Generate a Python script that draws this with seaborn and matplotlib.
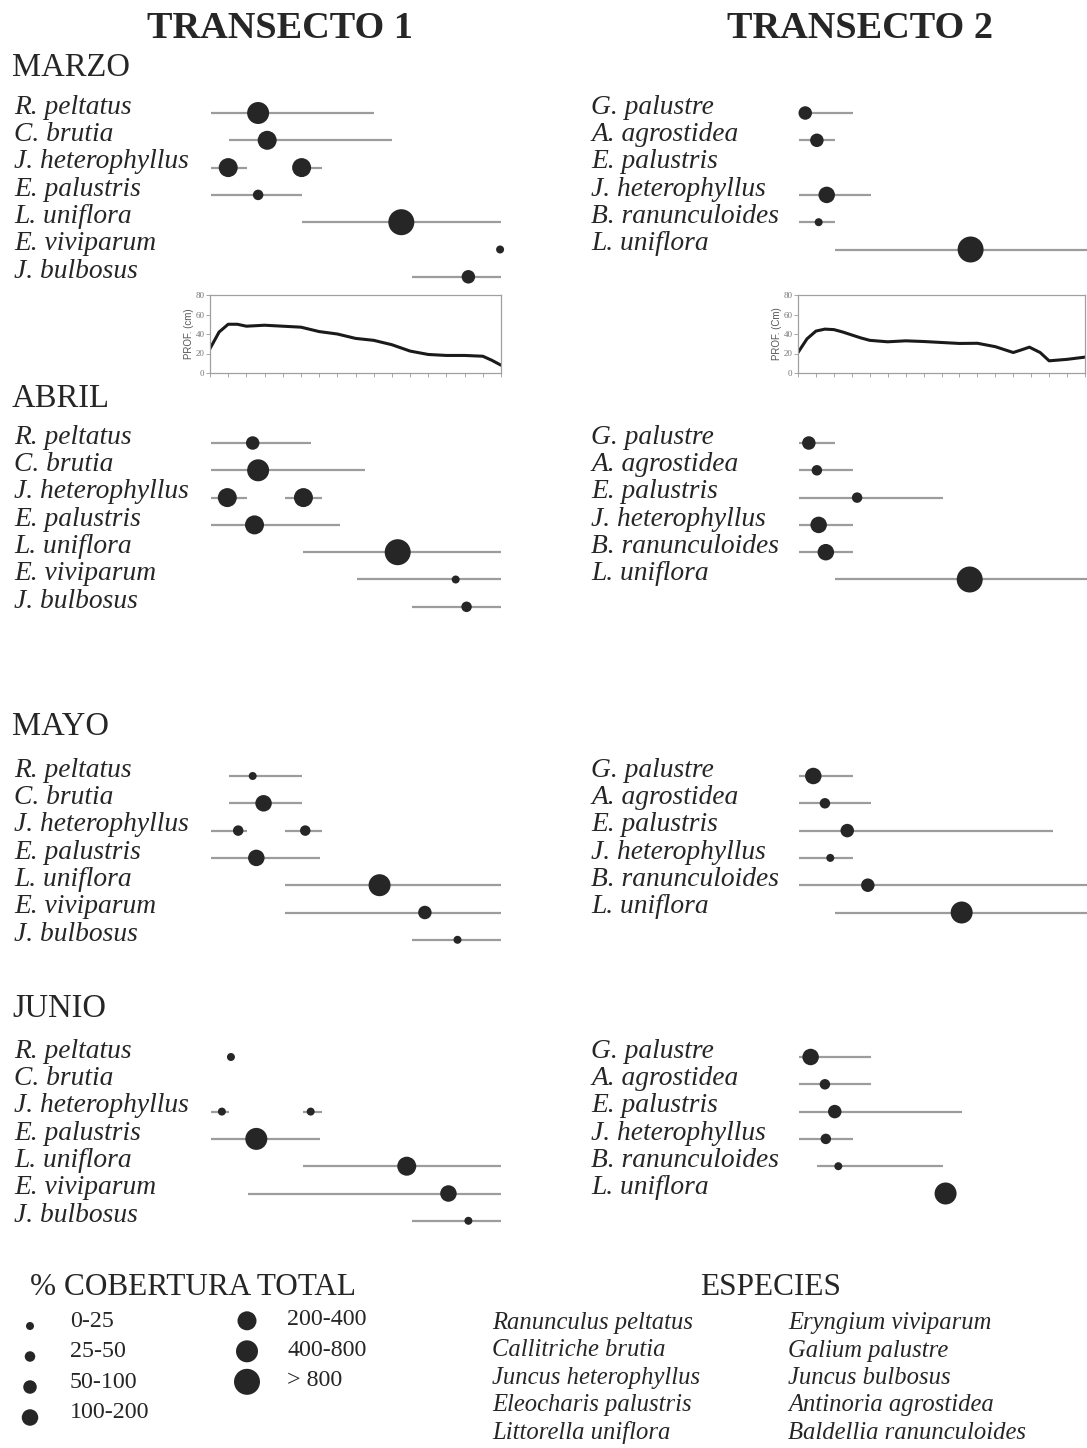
import numpy as np
import pandas as pd
import matplotlib.pyplot as plt
import matplotlib.transforms as mtransforms
import seaborn as sns

W, H = 1087, 1448

months = ["MARZO", "ABRIL", "MAYO", "JUNIO"]

# species rows of each transect (top to bottom)
species_t1 = ["R. peltatus", "C. brutia", "J. heterophyllus", "E. palustris",
              "L. uniflora", "E. viviparum", "J. bulbosus"]
species_t2 = ["G. palustre", "A. agrostidea", "E. palustris", "J. heterophyllus",
              "B. ranunculoides", "L. uniflora"]

# coverage classes 1..7
cover_labels = ["0-25", "25-50", "50-100", "100-200", "200-400", "400-800", "> 800"]

# observations: (row, position along transect, cover class, range start, range end)
t1_marzo = [
    (0, 2.6, 6, 0.0, 9.0),
    (1, 3.1, 5, 1.0, 10.0),
    (2, 0.95, 5, 0.0, 2.0),
    (2, 5.0, 5, 4.5, 6.1),
    (3, 2.6, 2, 0.0, 5.0),
    (4, 10.5, 7, 5.0, 16.0),
    (5, 15.95, 1, 15.95, 15.95),
    (6, 14.2, 3, 11.1, 16.0),
]
t1_abril = [
    (0, 2.3, 3, 0.0, 5.5),
    (1, 2.6, 6, 0.0, 8.5),
    (2, 0.9, 5, 0.0, 2.0),
    (2, 5.1, 5, 4.1, 6.1),
    (3, 2.4, 5, 0.0, 7.1),
    (4, 10.3, 7, 5.1, 16.0),
    (5, 13.5, 1, 8.05, 16.0),
    (6, 14.1, 2, 11.1, 16.0),
]
t1_mayo = [
    (0, 2.3, 1, 1.0, 5.0),
    (1, 2.9, 4, 1.0, 5.0),
    (2, 1.5, 2, 0.0, 2.0),
    (2, 5.2, 2, 4.1, 6.1),
    (3, 2.5, 4, 0.0, 6.0),
    (4, 9.3, 6, 4.1, 16.0),
    (5, 11.8, 3, 4.1, 16.0),
    (6, 13.6, 1, 11.1, 16.0),
]
t1_junio = [
    (0, 1.1, 1, 1.1, 1.1),
    (2, 0.6, 1, 0.0, 1.0),
    (2, 5.5, 1, 5.1, 6.1),
    (3, 2.5, 6, 0.0, 6.0),
    (4, 10.8, 5, 5.1, 16.0),
    (5, 13.1, 4, 2.05, 16.0),
    (6, 14.2, 1, 11.1, 16.0),
]
t2_marzo = [
    (0, 0.35, 3, 0.35, 3.0),
    (1, 1.0, 3, 0.0, 2.0),
    (3, 1.55, 4, 0.0, 4.0),
    (4, 1.1, 1, 0.0, 2.0),
    (5, 9.6, 7, 2.0, 16.1),
]
t2_abril = [
    (0, 0.55, 3, 0.0, 2.0),
    (1, 1.0, 2, 0.0, 3.0),
    (2, 3.25, 2, 0.0, 8.05),
    (3, 1.1, 4, 0.0, 3.0),
    (4, 1.5, 4, 0.0, 3.0),
    (5, 9.55, 7, 2.0, 16.1),
]
t2_mayo = [
    (0, 0.8, 4, 0.0, 3.0),
    (1, 1.45, 2, 0.0, 4.0),
    (2, 2.7, 3, 0.0, 14.2),
    (3, 1.75, 1, 0.0, 3.0),
    (4, 3.85, 3, 0.0, 16.1),
    (5, 9.1, 6, 2.0, 16.1),
]
t2_junio = [
    (0, 0.65, 4, 0.0, 4.0),
    (1, 1.45, 2, 0.0, 4.0),
    (2, 2.0, 3, 0.0, 9.1),
    (3, 1.5, 2, 0.0, 3.0),
    (4, 2.2, 1, 1.0, 8.05),
    (5, 8.2, 6, 8.2, 8.2),
]

# depth profiles (cm) along each transect
prof_x_t1 = [0, 0.5, 1, 1.5, 2, 3, 4, 5, 6, 7, 8, 9, 10, 11, 12, 13, 14, 15, 15.5, 16]
prof_d_t1 = [25, 42, 50, 50, 48, 49, 48, 47, 42.5, 40, 35.5, 33.5, 29, 22.5, 19, 18, 18, 17.2, 13, 8]
prof_x_t2 = [0, 0.5, 1, 1.5, 2, 2.5, 3, 3.5, 4, 5, 6, 7, 8, 9, 10, 11, 12, 12.5, 12.9, 13.5, 14, 15, 16]
prof_d_t2 = [21, 35, 43, 45, 44.5, 42, 39, 36, 33.5, 32, 33, 32.3, 31.3, 30.3, 30.5, 27, 21, 24, 26.5, 21, 12.5, 14, 16.3]

species_full_1 = ["Ranunculus peltatus", "Callitriche brutia", "Juncus heterophyllus",
                  "Eleocharis palustris", "Littorella uniflora"]
species_full_2 = ["Eryngium viviparum", "Galium palustre", "Juncus bulbosus",
                  "Antinoria agrostidea", "Baldellia ranunculoides"]

# dot diameter in pixels per class -> marker area in pt^2
dot_px = {1: 8, 2: 10.5, 3: 13.5, 4: 16.5, 5: 19, 6: 22, 7: 26}
dot_sizes = {k: (v * 0.72) ** 2 for k, v in dot_px.items()}

ink = "#262626"
line_gray = "#9c9c9c"

sns.set_theme(style="white")
plt.rcParams["font.family"] = ["Liberation Serif", "DejaVu Serif"]
plt.rcParams["text.color"] = ink

fig = plt.figure(figsize=(W / 100, H / 100), dpi=100)


def px_axes(x0, y0, x1, y1):
    return fig.add_axes([x0 / W, 1 - y1 / H, (x1 - x0) / W, (y1 - y0) / H])


def px_text(x, y, s, **kw):
    fig.text(x / W, 1 - y / H, s, **kw)


# layout
block_y = [113, 443, 776, 1057]
month_y = [76, 407, 735, 1017]
row_step = 27.3
panel_x = {1: (211, 501), 2: (799, 1085)}
label_x = {1: 14, 2: 591}
cols = ["row", "pos", "cls", "start", "end"]

transects = [
    (1, species_t1, [t1_marzo, t1_abril, t1_mayo, t1_junio]),
    (2, species_t2, [t2_marzo, t2_abril, t2_mayo, t2_junio]),
]

for t, species, month_data in transects:
    x0, x1 = panel_x[t]
    for m, obs in enumerate(month_data):
        y0 = block_y[m]
        ax = px_axes(x0, y0 - row_step / 2, x1, y0 + 6.5 * row_step)
        df = pd.DataFrame(obs, columns=cols)
        rng = df[df["end"] > df["start"]]
        ax.hlines(rng["row"], rng["start"], rng["end"], color=line_gray,
                  lw=1.6, clip_on=False, zorder=1)
        sns.scatterplot(data=df, x="pos", y="row", size="cls", sizes=dot_sizes,
                        color=ink, linewidth=0, legend=False, ax=ax,
                        clip_on=False, zorder=3)
        ax.set_xlim(0, 16)
        ax.set_ylim(6.5, -0.5)
        ax.axis("off")
        trans = mtransforms.blended_transform_factory(fig.transFigure, ax.transData)
        for i, name in enumerate(species):
            ax.text(label_x[t] / W, i + 0.03, name, transform=trans,
                    style="italic", fontsize=19.8, va="baseline")
        if t == 1:
            px_text(12, month_y[m], months[m], fontsize=23.5, va="baseline")

px_text(280, 38, "TRANSECTO 1", fontsize=27.5, weight="bold", ha="center", va="baseline")
px_text(860, 38, "TRANSECTO 2", fontsize=27.5, weight="bold", ha="center", va="baseline")

# depth profile insets
profiles = [
    (panel_x[1], prof_x_t1, prof_d_t1, "PROF. (cm)"),
    ((799, 1085), prof_x_t2, prof_d_t2, "PROF. (Cm)"),
]
for (x0, x1), px_, pd_, lab in profiles:
    ins = px_axes(x0 - 1, 295, x1, 373)
    sns.lineplot(x=px_, y=pd_, ax=ins, color="#1a1a1a", lw=2.2)
    ins.set_xlim(0, 16)
    ins.set_ylim(0, 80)
    ins.set_xticks(range(17))
    ins.set_xticklabels([])
    ins.set_yticks(range(0, 81, 20))
    ins.tick_params(axis="both", bottom=True, left=True, length=3, width=0.6,
                    color="#999999", labelsize=6.5, labelcolor="#777777", pad=1)
    ins.set_ylabel(lab, fontsize=7, family="Liberation Sans", color="#555555",
                   labelpad=1)
    for s in ins.spines.values():
        s.set_color("#a0a0a0")
        s.set_linewidth(0.9)

# coverage legend
px_text(30, 1295, "% COBERTURA TOTAL", fontsize=22.5, va="baseline")
lg = px_axes(30, 1326, 247, 1326 + 3 * 30.5)
leg_df = pd.DataFrame({"cls": range(1, 8)})
leg_df["col"] = (leg_df.index // 4).astype(float)
leg_df["row"] = (leg_df.index % 4) - 0.17 * leg_df["col"]
sns.scatterplot(data=leg_df, x="col", y="row", size="cls", sizes=dot_sizes,
                color=ink, linewidth=0, legend=False, ax=lg, clip_on=False)
lg.set_xlim(0, 1)
lg.set_ylim(3, 0)
lg.axis("off")
for i, lab in enumerate(cover_labels):
    shift = -0.15 if leg_df["col"][i] == 0 else -0.03
    lg.text(leg_df["col"][i] + 40 / 217, leg_df["row"][i] + shift, lab,
            fontsize=17.3, va="center")

# species legend
px_text(771, 1295, "ESPECIES", fontsize=22.5, ha="center", va="baseline")
for i, (a, b) in enumerate(zip(species_full_1, species_full_2)):
    yb = 1329 + 27.5 * i
    px_text(492, yb, a, fontsize=17.7, style="italic", va="baseline")
    px_text(788, yb, b, fontsize=17.7, style="italic", va="baseline")

fig.savefig("out.png", dpi=100, facecolor="white")
